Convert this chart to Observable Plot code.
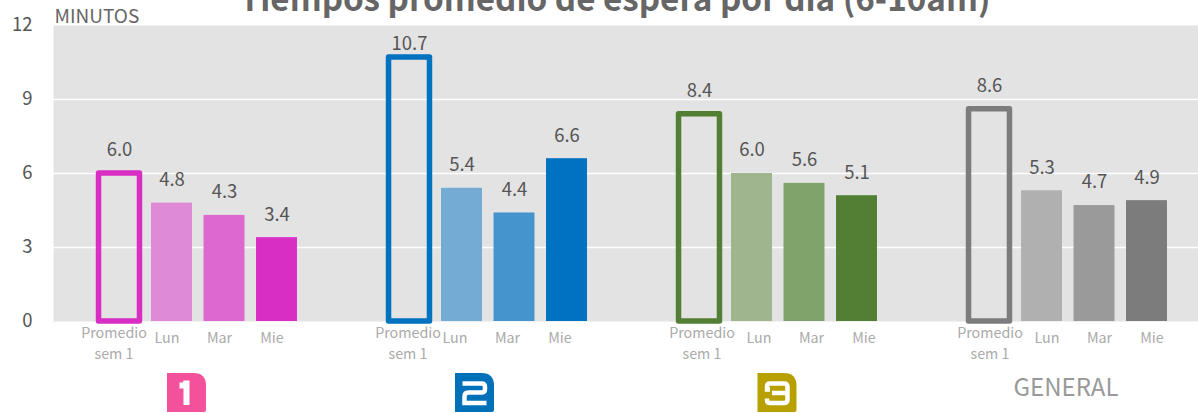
<!DOCTYPE html>
<html><head><meta charset="utf-8">
<script src="https://cdn.jsdelivr.net/npm/d3@7"></script>
<script src="https://cdn.jsdelivr.net/npm/@observablehq/plot@0.6"></script>
<style>
html,body{margin:0;padding:0;background:#fff;overflow:hidden}
svg{display:block;font-family:"Noto Sans CJK SC","Noto Sans",sans-serif}
</style></head><body><div id="c"></div>
<script>
const titleText = "Tiempos promedio de espera por día (6-10am)";
const unitText = "MINUTOS";
const categories = ["Promedio", "Lun", "Mar", "Mie"];
const groups = ["1", "2", "3", "GENERAL"];
const values1 = [6.0, 4.8, 4.3, 3.4];
const values2 = [10.7, 5.4, 4.4, 6.6];
const values3 = [8.4, 6.0, 5.6, 5.1];
const valuesG = [8.6, 5.3, 4.7, 4.9];
const yTicks = [0, 3, 6, 9, 12];
const colors1 = ["#d92ec4", "#de8ad6", "#dd68cf", "#d92ec4"];
const colors2 = ["#0072bf", "#74abd4", "#4594cd", "#0072bf"];
const colors3 = ["#527f34", "#9fb58d", "#80a26b", "#527f34"];
const colorsG = ["#7c7c7c", "#b0b0b0", "#9a9a9a", "#7c7c7c"];
const badgeColors = ["#f4519c", "#0070b8", "#b8a000"];

// layout (in x-scale "slot" units, one slot = one bar step)
const groupPeriod = 290 / 52.5;
const halfBar = 0.39;
const promedioShift = [-5.5, -1.5, 2.5, 0.5];
const dayShift = [-5, -7, 7, 5];
const badgeShift = [0, -2, 10.5];

const allValues = [values1, values2, values3, valuesG];
const allColors = [colors1, colors2, colors3, colorsG];
const rows = groups.flatMap((g, gi) => categories.map((c, ci) => ({
  group: g, gi, cat: c, ci,
  value: allValues[gi][ci], color: allColors[gi][ci],
  slot: gi * groupPeriod + ci
})));
const outline = rows.filter(d => d.ci === 0);
const days = rows.filter(d => d.ci > 0);
const badgeSlots = [1.276, 1.276 + groupPeriod, 1.276 + 2 * groupPeriod];

const badgeShape = {draw(c) {
  c.moveTo(-19.5, -19.5); c.lineTo(7, -19.5); c.quadraticCurveTo(19.5, -19.5, 19.5, -7);
  c.lineTo(19.5, 17.5); c.quadraticCurveTo(19.5, 19.5, 17.5, 19.5); c.lineTo(-19.5, 19.5); c.closePath();
}};
const digit1 = {draw(c) {
  c.moveTo(-7, -7); c.lineTo(-4.5, -7); c.quadraticCurveTo(0, -7, 0, -12); c.lineTo(0, 12.5);
}};
const digit2 = {draw(c) {
  c.moveTo(-12, -9); c.lineTo(7, -9); c.quadraticCurveTo(10.5, -9, 10.5, -5.5);
  c.lineTo(10.5, -3.5); c.quadraticCurveTo(10.5, 0, 7, 0); c.lineTo(-6, 0);
  c.quadraticCurveTo(-10, 0, -10, 4); c.lineTo(-10, 10.5); c.lineTo(12, 10.5);
}};
const digit3 = {draw(c) {
  c.moveTo(-7, -3); c.lineTo(-10, -3); c.lineTo(-10, -6); c.quadraticCurveTo(-10, -9, -7, -9); c.lineTo(7, -9); c.quadraticCurveTo(10.5, -9, 10.5, -5.5);
  c.lineTo(10.5, 7); c.quadraticCurveTo(10.5, 10.5, 7, 10.5); c.lineTo(-7, 10.5);
  c.quadraticCurveTo(-10, 10.5, -10, 7.5); c.lineTo(-10, 6);
  c.moveTo(-5, 0.5); c.lineTo(10.5, 0.5);
}};
const digits = [digit1, digit2, digit3];
const badgeMarks = badgeColors.flatMap((col, i) => [
  Plot.dot([badgeSlots[i]], {x: d => d, frameAnchor: "bottom", dy: 71, dx: badgeShift[i], r: 19, symbol: badgeShape, fill: col, stroke: "none"}),
  Plot.dot([badgeSlots[i]], {x: d => d, frameAnchor: "bottom", dy: 71, dx: badgeShift[i], r: 19, symbol: digits[i], fill: "none", stroke: "white", strokeWidth: i === 0 ? 6 : 4.5})
]);

const chart = Plot.plot({
  width: 1198, height: 413,
  marginLeft: 53, marginRight: 0, marginTop: 25, marginBottom: 92,
  x: {type: "linear", domain: [-66 / 52.5, 1079 / 52.5], axis: null},
  y: {domain: [0, 12], label: null},
  style: {background: "transparent", fontFamily: '"Noto Sans CJK SC","Noto Sans",sans-serif'},
  marks: [
    Plot.frame({fill: "#e3e3e3", stroke: "none"}),
    Plot.ruleY([3, 6, 9], {stroke: "white", strokeWidth: 1.5}),
    Plot.axisY({ticks: yTicks, tickSize: 0, tickPadding: 21, label: null, fontSize: 18.5, color: "#555"}),
    Plot.rectY(days, {x1: d => d.slot - halfBar, x2: d => d.slot + halfBar, y1: 0, y2: "value", fill: "color"}),
    Plot.rectY(outline, {x1: d => d.slot - halfBar, x2: d => d.slot + halfBar, y1: 0, y2: "value", fill: "none", stroke: "color", strokeWidth: 5.5, strokeLinejoin: "round"}),
    Plot.text(rows.filter(d => d.value < 10), {x: "slot", y: "value", text: d => d.value.toFixed(1), dy: -23, fontSize: 18.5, fill: "#555"}),
    Plot.text(rows.filter(d => d.value >= 10), {x: "slot", y: "value", text: d => d.value.toFixed(1), dy: -13, fontSize: 18.5, fill: "#555"}),
    Plot.text([unitText], {frameAnchor: "top-left", dy: -16, dx: 1, text: d => d, fontSize: 19, fill: "#666"}),
    Plot.text([titleText], {frameAnchor: "top", dx: -11, dy: -38, text: d => d, fontSize: 33.2, fontWeight: 700, fill: "#666"}),
    ...groups.map((g, i) => Plot.text(outline.filter(d => d.gi === i), {x: "slot", frameAnchor: "bottom", dy: 16, dx: promedioShift[i], text: "cat", fontSize: 14.3, fill: "#aaa"})),
    ...groups.map((g, i) => Plot.text(outline.filter(d => d.gi === i), {x: "slot", frameAnchor: "bottom", dy: 37, dx: promedioShift[i], text: () => "sem 1", fontSize: 14.3, fill: "#aaa"})),
    ...groups.map((g, i) => Plot.text(days.filter(d => d.gi === i), {x: "slot", frameAnchor: "bottom", dy: 21, dx: dayShift[i], text: "cat", fontSize: 14.3, fill: "#aaa"})),
    ...badgeMarks,
    Plot.text(["GENERAL"], {x: d => 1.276 + 3 * groupPeriod, frameAnchor: "bottom", dy: 74, dx: 9.5, text: d => d, fontSize: 24, fill: "#999"})
  ]
});
document.getElementById("c").appendChild(chart);
</script></body></html>
